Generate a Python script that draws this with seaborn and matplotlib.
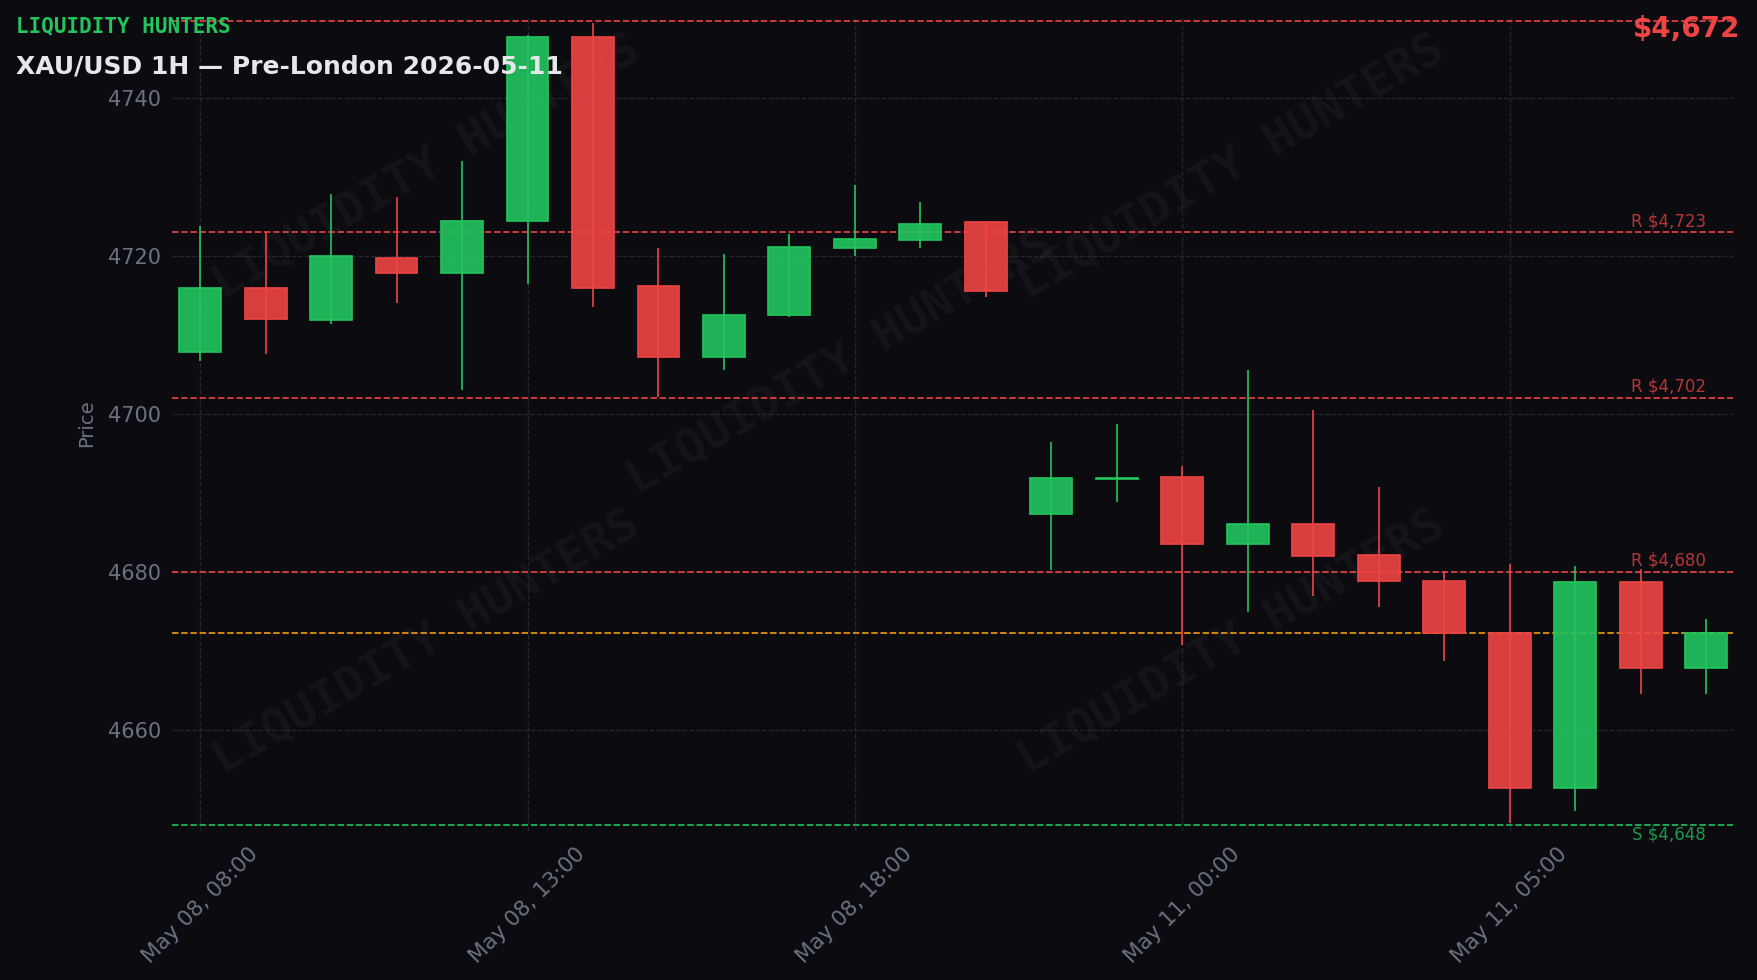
import matplotlib
matplotlib.use("Agg")
import matplotlib.pyplot as plt
import matplotlib.ticker as mticker
import seaborn as sns
import pandas as pd

# hourly candles, weekend gap removed (plotted by index)
times = pd.to_datetime(
    [f"2026-05-08 {h:02d}:00" for h in range(8, 21)]
    + ["2026-05-10 22:00", "2026-05-10 23:00"]
    + [f"2026-05-11 {h:02d}:00" for h in range(0, 9)]
)
opens = [4707.9, 4715.9, 4711.9, 4719.8, 4717.8, 4724.4, 4747.8, 4716.2, 4707.2, 4712.5, 4721.0, 4722.0,
         4724.3, 4687.4, 4691.8, 4692.0, 4683.5, 4686.1, 4682.1, 4678.9, 4672.3, 4652.7, 4678.7, 4667.9]
highs = [4723.8, 4723.0, 4727.8, 4727.5, 4732.0, 4748.0, 4749.5, 4721.0, 4720.3, 4722.8, 4729.0, 4726.8,
         4724.4, 4696.5, 4698.7, 4693.4, 4705.6, 4700.5, 4690.8, 4680.1, 4681.0, 4680.8, 4680.4, 4674.1]
lows = [4706.7, 4707.6, 4711.4, 4714.0, 4703.0, 4716.5, 4713.6, 4702.1, 4705.6, 4712.3, 4720.0, 4721.0,
        4714.8, 4680.2, 4688.9, 4670.7, 4674.9, 4677.0, 4675.6, 4668.7, 4648.2, 4649.8, 4664.5, 4664.6]
closes = [4715.9, 4712.0, 4720.0, 4717.8, 4724.5, 4747.8, 4716.0, 4707.2, 4712.6, 4721.1, 4722.1, 4724.1,
          4715.6, 4691.9, 4691.9, 4683.5, 4686.1, 4682.0, 4678.8, 4672.3, 4652.7, 4678.7, 4667.9, 4672.3]

resistance = [4723, 4702, 4680]
support = [4648]
swing_high = 4749.8
current = 4672.3

df = pd.DataFrame({"time": times, "open": opens, "high": highs, "low": lows, "close": closes})
df["i"] = range(len(df))
df["up"] = df["close"] >= df["open"]

BG = "#0b0b10"
GREEN = "#22c55e"
RED = "#ef4444"
ORANGE = "#f59e0b"
GREY = "#6b7280"
GRID = "#2a2a36"

sns.set_style("dark", {"axes.facecolor": BG, "figure.facecolor": BG,
                       "grid.color": GRID, "axes.edgecolor": BG})
plt.rcParams["font.family"] = ["DejaVu Sans"]

fig = plt.figure(figsize=(17.58, 9.8), dpi=100, facecolor=BG)
ax = fig.add_axes([0.0978, 0.152, 0.888, 0.8317])
ax.set_facecolor(BG)

# watermark
for wx, wy in [(0.163, 0.814), (0.679, 0.814), (0.428, 0.575), (0.163, 0.231), (0.679, 0.231)]:
    ax.text(wx, wy, "LIQUIDITY HUNTERS", transform=ax.transAxes, ha="center", va="center",
            rotation=30, fontsize=34, family="DejaVu Sans Mono", weight="bold",
            color="white", alpha=0.04, zorder=0)

# candles
colors = [GREEN if u else RED for u in df["up"]]
ax.vlines(df["i"], df["low"], df["high"], colors=colors, linewidth=1.2, zorder=2)
bottoms = df[["open", "close"]].min(axis=1)
heights = (df["close"] - df["open"]).abs().clip(lower=0.1)
ax.bar(df["i"], heights, bottom=bottoms, width=0.64, color=colors, alpha=0.9,
       edgecolor=colors, linewidth=0, zorder=3)
ax.bar(df["i"], heights, bottom=bottoms, width=0.64, fill=False,
       edgecolor=colors, linewidth=1.2, zorder=4)

# levels
last = len(df) - 1
ax.axhline(swing_high, color=RED, ls="--", lw=1.25, alpha=0.95, zorder=1)
for r in resistance:
    ax.axhline(r, color=RED, ls="--", lw=1.25, alpha=0.95, zorder=1)
    ax.text(last, r + 0.3, f"R ${r:,}", color=RED, alpha=0.75, fontsize=12,
            ha="right", va="bottom", zorder=5)
for s in support:
    ax.axhline(s, color=GREEN, ls="--", lw=1.25, alpha=0.95, zorder=1)
    ax.text(last, s - 0.05, f"S ${s:,}", color=GREEN, alpha=0.75, fontsize=12,
            ha="right", va="top", zorder=5)
ax.axhline(current, color=ORANGE, ls="--", lw=1.25, alpha=0.95, zorder=1)

# axes
ax.set_xlim(-0.43, 23.41)
ax.set_ylim(4647.2, 4750.4)
tick_idx = list(range(0, len(df), 5))
ax.set_xticks(tick_idx)
ax.set_xticklabels([df["time"][k].strftime("%b %d, %H:%M") for k in tick_idx],
                   rotation=45, ha="center")
ax.yaxis.set_major_locator(mticker.MultipleLocator(20))
ax.yaxis.set_major_formatter(mticker.FormatStrFormatter("%d"))
ax.tick_params(colors=GREY, labelcolor=GREY, labelsize=15, length=4.5, width=1)
ax.tick_params(axis="x", labelsize=15.5, pad=5)
ax.grid(True, color=GRID, ls="--", lw=0.9, alpha=0.9, zorder=0)
ax.set_axisbelow(True)
for sp in ax.spines.values():
    sp.set_visible(False)
ax.set_ylabel("Price", color=GREY, fontsize=14, labelpad=8)

# header
fig.text(0.009, 0.983, "LIQUIDITY HUNTERS", color=GREEN, fontsize=15, weight="bold",
         family="DejaVu Sans Mono", ha="left", va="top")
fig.text(0.009, 0.944, "XAU/USD 1H \u2014 Pre-London 2026-05-11", color="#e5e7eb",
         fontsize=18, weight="bold", ha="left", va="top")
fig.text(0.990, 0.985, f"${current:,.0f}", color=RED, fontsize=20, weight="bold",
         ha="right", va="top")

fig.savefig("out.png", dpi=100, facecolor=BG)
